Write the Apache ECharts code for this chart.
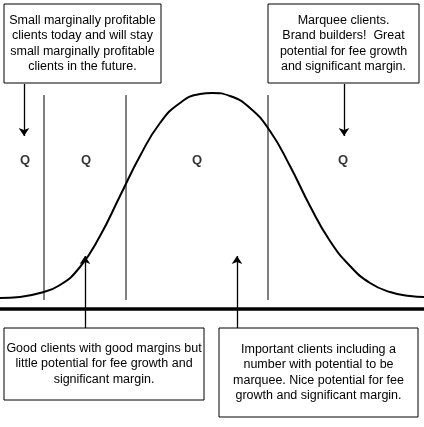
<!DOCTYPE html>
<html><head><meta charset="utf-8">
<script src="https://cdn.jsdelivr.net/npm/echarts@6/dist/echarts.min.js"></script>
<style>html,body{margin:0;background:#fff}#c{width:424px;height:427px}</style>
</head><body><div id="c"></div>
<script>
// curve, in pixel units (y down)
var curveX = [0, 20, 40, 60, 80, 100, 120, 140, 160, 180, 200, 212, 230, 250, 270, 290, 310, 330, 350, 370, 390, 410, 424];
var curveY = [298, 297, 293, 285, 267, 236, 196, 156, 123, 103, 94, 93, 96, 108, 131, 166, 206, 241, 266, 283, 292, 296, 297];
var dividers = [44, 126, 268];
var qX = [25, 86, 197, 343];
var qLabels = ['Q', 'Q', 'Q', 'Q'];
var arrows = [[24, 84, 24, 136], [344, 84, 344, 136], [85, 328, 85, 256], [237, 328, 237, 256]];
var boxes = [
  {x: 4, y: 4, w: 157, h: 79, t: 'Small marginally profitable\nclients today and will stay\nsmall marginally profitable\nclients in the future.'},
  {x: 268, y: 4, w: 151, h: 79, t: 'Marquee clients.\nBrand builders!  Great\npotential for fee growth\nand significant margin.'},
  {x: 4, y: 328, w: 200, h: 72, t: 'Good clients with good margins but\nlittle potential for fee growth and\nsignificant margin.'},
  {x: 219, y: 328, w: 199, h: 89, t: 'Important clients including a\nnumber with potential to be\nmarquee. Nice potential for fee\ngrowth and significant margin.'}
];

var font = '"Liberation Sans Narrow", "Liberation Sans", sans-serif';
var chart = echarts.init(document.getElementById('c'));

var series = [{
  type: 'line', smooth: true, symbol: 'none',
  data: curveX.map(function (x, i) { return [x, curveY[i]]; }),
  lineStyle: {color: '#000', width: 2}
}, {
  type: 'line', symbol: 'none', data: [[0, 309], [424, 309]],
  lineStyle: {color: '#000', width: 3.5}
}, {
  type: 'scatter', symbolSize: 0,
  data: qX.map(function (x, i) { return [x, 160, qLabels[i]]; }),
  label: {show: true, position: 'inside', formatter: function (p) { return p.data[2]; },
    fontFamily: 'Liberation Sans', fontWeight: 'bold', fontSize: 13, color: '#000'}
}];
dividers.forEach(function (x) {
  series.push({type: 'line', symbol: 'none', data: [[x, 95], [x, 300]], lineStyle: {color: '#000', width: 1}});
});
arrows.forEach(function (a) {
  series.push({type: 'lines', coordinateSystem: 'cartesian2d', symbol: ['none', 'arrow'], symbolSize: 8,
    data: [{coords: [[a[0], a[1]], [a[2], a[3]]]}], lineStyle: {color: '#000', width: 1.3, opacity: 1}});
});

chart.setOption({
  animation: false,
  grid: {left: 0, right: 0, top: 0, bottom: 0},
  xAxis: {type: 'value', min: 0, max: 424, show: false},
  yAxis: {type: 'value', min: 0, max: 427, inverse: true, show: false},
  series: series,
  graphic: boxes.map(function (b) {
    return {type: 'group', children: [
      {type: 'rect', shape: {x: b.x, y: b.y, width: b.w, height: b.h}, style: {fill: '#fff', stroke: '#000', lineWidth: 1}},
      {type: 'text', x: b.x + b.w / 2, y: b.y + b.h / 2, style: {text: b.t, align: 'center', verticalAlign: 'middle',
        font: '12.5px ' + font, lineHeight: 15.5, fill: '#000'}}
    ]};
  })
});
</script></body></html>
